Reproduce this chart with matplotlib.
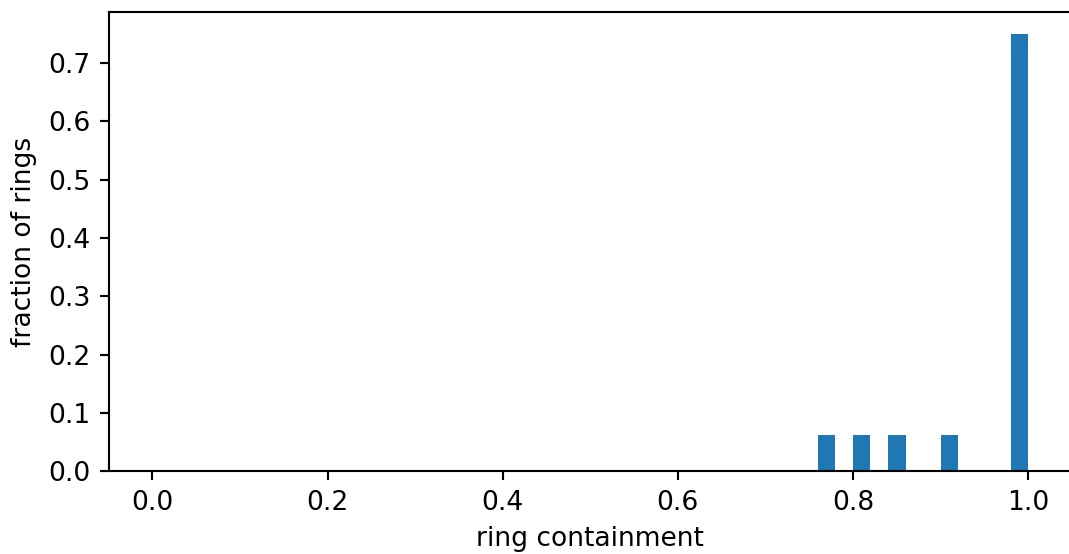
import matplotlib
matplotlib.use("Agg")
import matplotlib.pyplot as plt
import numpy as np

# per-ring containment values (16 rings)
containment = [0.77, 0.81, 0.85, 0.91] + [1.0] * 12
bin_edges = np.linspace(0.0, 1.0, 51)

DPI = 191
plt.rcParams["font.size"] = 10

fig = plt.figure(figsize=(1069 / DPI, 554 / DPI), dpi=DPI)
ax = fig.add_axes([0.1017, 0.1493, 0.901, 0.829])

weights = np.ones(len(containment)) / len(containment)
ax.hist(containment, bins=bin_edges, weights=weights, color="#1f77b4")
ax.set_xlim(-0.05, 1.05)
ax.set_ylim(0, 0.75 * 1.05)
ax.set_xlabel("ring containment")
ax.set_ylabel("fraction of rings")

fig.savefig("out.png", dpi=DPI)
plt.close(fig)
